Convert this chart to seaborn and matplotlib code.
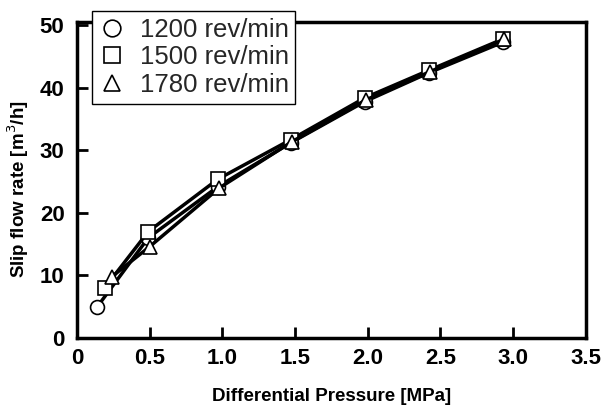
import pandas as pd
import numpy as np
import seaborn as sns
import matplotlib.pyplot as plt
from matplotlib.lines import Line2D

# valores
pressao_1200 = [0.14, 0.49, 0.97, 1.47, 1.98, 2.42, 2.93]
vazao_1200 = [5.0, 16.0, 24.2, 31.2, 37.8, 42.4, 47.3]
pressao_1500 = [0.19, 0.49, 0.97, 1.47, 1.98, 2.42, 2.93]
vazao_1500 = [8.0, 17.0, 25.4, 31.7, 38.4, 42.8, 47.8]
pressao_1780 = [0.24, 0.50, 0.98, 1.48, 1.99, 2.43, 2.94]
vazao_1780 = [9.8, 14.6, 24.0, 31.4, 38.1, 42.6, 47.8]
rotulos = ["1200 rev/min", "1500 rev/min", "1780 rev/min"]
marcadores = ["o", "s", "^"]

sns.set_style("ticks")
plt.rcParams['font.family'] = ['Liberation Sans', 'DejaVu Sans']

fig = plt.figure(figsize=(6.02, 4.11), dpi=100)
ax = fig.add_axes([0.128, 0.178, 0.845, 0.768])

series = [(pressao_1200, vazao_1200), (pressao_1500, vazao_1500), (pressao_1780, vazao_1780)]
for (x, y), lab, m in zip(series, rotulos, marcadores):
    sns.lineplot(x=x, y=y, ax=ax, color="black", linewidth=2.5, marker=m,
                 markersize=10, markerfacecolor="white", markeredgecolor="black",
                 markeredgewidth=1.2, label=lab, legend=False)

ax.set_xlim(0, 3.5)
ax.set_ylim(0, 50.5)
ax.set_xticks(np.arange(0, 3.51, 0.5))
ax.set_xticklabels(["0", "0.5", "1.0", "1.5", "2.0", "2.5", "3.0", "3.5"])
ax.set_yticks([0, 10, 20, 30, 40, 50])
ax.tick_params(direction="in", length=8, width=2, labelsize=16, colors="black")
ax.tick_params(axis="x", pad=7)
ax.tick_params(axis="y", pad=9)
for t in ax.get_xticklabels() + ax.get_yticklabels():
    t.set_fontweight("bold")
for s in ax.spines.values():
    s.set_linewidth(2.5)
    s.set_color("black")
    s.set_visible(True)

ax.set_xlabel("Differential Pressure [MPa]", fontsize=13.5, fontweight="bold",
              labelpad=14, color="black")
ax.set_ylabel("Slip flow rate [m$^3$/h]", fontsize=13.5, fontweight="bold", color="black")
ax.yaxis.set_label_coords(-0.09, 0.47)

alcas = [Line2D([], [], linestyle="none", marker=m, markersize=12, markerfacecolor="white",
                markeredgecolor="black", markeredgewidth=1.2) for m in marcadores]
leg = ax.legend(alcas, rotulos, loc="upper left", bbox_to_anchor=(0.03, 1.035),
                borderaxespad=0, fontsize=18.5, frameon=True, fancybox=False,
                handlelength=1.0, handletextpad=0.6, labelspacing=0.15, borderpad=0.25)
leg.get_frame().set_edgecolor("black")
leg.get_frame().set_linewidth(1.0)
leg.get_frame().set_alpha(1)

fig.savefig("out.png", dpi=100)
